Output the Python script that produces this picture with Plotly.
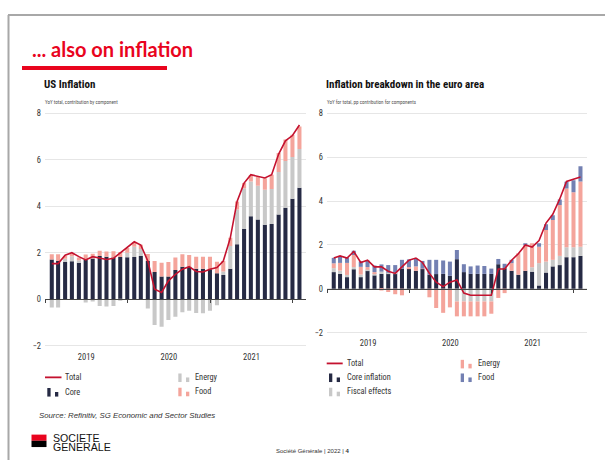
import plotly.graph_objects as go
import pandas as pd

# ---------------- data ----------------
months = pd.date_range("2019-01-01", periods=37, freq=pd.offsets.MonthEnd())

us_names = ["Total", "Core", "Energy", "Food"]
us_core = [1.71, 1.64, 1.60, 1.63, 1.57, 1.70, 1.75, 1.86, 1.83, 1.79, 1.81, 1.80, 1.81, 1.86, 1.64,
           1.17, 0.97, 0.97, 1.26, 1.40, 1.40, 1.31, 1.31, 1.29, 1.11, 1.04, 1.31, 2.36, 3.03, 3.57,
           3.43, 3.20, 3.24, 3.65, 3.94, 4.33, 4.80]
us_energy = [-0.36, -0.36, 0.14, 0.22, 0.10, -0.15, -0.10, -0.30, -0.32, -0.30, -0.05, 0.20, 0.45, 0.30, -0.40,
             -1.11, -1.19, -0.90, -0.76, -0.57, -0.50, -0.60, -0.61, -0.50, -0.26, 0.15, 0.98, 1.50, 1.75, 1.50,
             1.46, 1.51, 1.50, 1.83, 2.01, 1.79, 1.67]
us_food = [0.22, 0.29, 0.12, 0.12, 0.12, 0.22, 0.20, 0.22, 0.22, 0.27, 0.22, 0.20, 0.20, 0.18, 0.30,
           0.47, 0.60, 0.63, 0.53, 0.53, 0.50, 0.52, 0.52, 0.54, 0.50, 0.45, 0.35, 0.35, 0.22, 0.28,
           0.40, 0.50, 0.62, 0.82, 0.93, 0.96, 0.97]
us_total = [1.53, 1.53, 1.89, 2.00, 1.83, 1.69, 1.83, 1.76, 1.71, 1.76, 2.00, 2.21, 2.47, 2.33, 1.64,
            0.43, 0.29, 0.79, 1.07, 1.29, 1.40, 1.19, 1.17, 1.29, 1.36, 1.64, 2.64, 4.21, 5.00, 5.36,
            5.30, 5.22, 5.36, 6.25, 6.82, 7.05, 7.50]

ea_names = ["Total", "Core inflation", "Fiscal effects", "Energy", "Food"]
ea_core = [0.76, 0.68, 0.53, 0.89, 0.53, 0.82, 0.61, 0.68, 0.71, 0.71, 0.92, 0.94, 0.82, 0.90, 0.64,
           0.67, 0.68, 0.59, 1.35, 0.76, 0.68, 0.68, 0.68, 0.68, 1.12, 0.94, 0.82, 0.64, 0.82, 0.78,
           0.15, 0.74, 1.02, 1.08, 1.44, 1.44, 1.50]
ea_fiscal = [0.18, 0.15, 0.10, 0.10, 0.12, 0.05, 0.10, 0.10, 0.02, 0.02, 0.00, 0.00, 0.00, 0.00, 0.00,
             0.00, 0.00, 0.00, -0.58, -0.58, -0.58, -0.58, -0.58, -0.58, 0.00, 0.00, 0.00, 0.00, 0.00, 0.20,
             1.02, 0.50, 0.30, 0.42, 0.45, 0.45, 0.42]
ea_energy = [0.22, 0.35, 0.55, 0.55, 0.35, 0.12, 0.05, -0.08, -0.15, -0.25, -0.30, 0.05, 0.20, 0.02, -0.39,
             -0.88, -1.10, -0.85, -0.68, -0.68, -0.68, -0.68, -0.68, -0.56, -0.42, -0.20, 0.35, 0.98, 1.18, 1.10,
             0.75, 1.44, 1.82, 2.32, 2.69, 2.51, 2.98]
ea_food = [0.25, 0.30, 0.25, 0.20, 0.25, 0.30, 0.30, 0.33, 0.35, 0.35, 0.40, 0.35, 0.35, 0.35, 0.68,
           0.65, 0.61, 0.65, 0.42, 0.36, 0.34, 0.38, 0.36, 0.24, 0.24, 0.20, 0.15, 0.00, 0.05, 0.00,
           0.16, 0.27, 0.22, 0.26, 0.30, 0.55, 0.69]
ea_total = [1.4, 1.5, 1.4, 1.7, 1.2, 1.3, 1.0, 1.0, 0.8, 0.7, 1.0, 1.3, 1.4, 1.2, 0.7,
            0.3, 0.1, 0.3, 0.4, -0.2, -0.3, -0.3, -0.3, -0.3, 0.9, 0.9, 1.3, 1.6, 2.0, 1.9,
            2.2, 3.0, 3.4, 4.1, 4.9, 5.0, 5.1]

y_tickvals = [-2, 0, 2, 4, 6, 8]

# ---------------- style ----------------
W, H = 605, 461
NAVY = "#262a44"
GREY = "#c8c8c8"
SALMON = "#f4a49b"
BLUE = "#7380b2"
LINE_RED = "#c4122f"
SG_RED = "#e9041e"
COND = "Roboto Condensed, Roboto, sans-serif"
SANS = "Liberation Sans, Arial, sans-serif"


def px(x):
    return x / W


def py(y):
    return 1 - y / H


YR = [-2.2, 8.2]
XR = ["2019-01-01", "2022-03-01"]
left_dx = [px(45), px(306)]
left_dy = [py(350.7), py(108.3)]
right_dx = [px(327), px(587)]
right_dy = [py(337.4), py(108.6)]


def zero_pos(dom):
    return dom[0] + (0 - YR[0]) / (YR[1] - YR[0]) * (dom[1] - dom[0])


fig = go.Figure()

# US bars
for vals, name, col in [(us_core, us_names[1], NAVY), (us_energy, us_names[2], GREY), (us_food, us_names[3], SALMON)]:
    fig.add_trace(go.Bar(x=months, y=vals, name=name, marker=dict(color=col, line=dict(width=0)),
                         xaxis="x", yaxis="y"))
fig.add_trace(go.Scatter(x=months, y=us_total, name=us_names[0], mode="lines",
                         line=dict(color=LINE_RED, width=1.6), xaxis="x3", yaxis="y"))

# Euro area bars
for vals, name, col in [(ea_core, ea_names[1], NAVY), (ea_fiscal, ea_names[2], GREY),
                        (ea_energy, ea_names[3], SALMON), (ea_food, ea_names[4], BLUE)]:
    fig.add_trace(go.Bar(x=months, y=vals, name=name, marker=dict(color=col, line=dict(width=0)),
                         xaxis="x2", yaxis="y2"))
fig.add_trace(go.Scatter(x=months, y=ea_total, name=ea_names[0], mode="lines",
                         line=dict(color=LINE_RED, width=1.6), xaxis="x4", yaxis="y2"))

tickfont = dict(family=COND, size=8.5, color="#333333")

base_x = dict(type="date", range=XR, dtick="M12", tick0="2019-01-01", ticklabelmode="period",
              tickformat="%Y", ticks="", showgrid=False, showline=False, zeroline=False,
              tickfont=tickfont, fixedrange=True)
zero_x = dict(type="date", range=XR, dtick="M12", tick0="2019-01-01", ticks="outside", ticklen=3,
              tickcolor="#444444", tickwidth=1, showline=True, linecolor="#444444", linewidth=1,
              showticklabels=False, showgrid=False, zeroline=False, anchor="free")
base_y = dict(range=YR, tickvals=y_tickvals, showgrid=True, gridcolor="#e6e6e6", gridwidth=1,
              zeroline=False, showline=False, ticks="", tickfont=tickfont, ticklabelstandoff=3)

fig.update_layout(
    width=W, height=H, margin=dict(l=0, r=0, t=0, b=0),
    paper_bgcolor="white", plot_bgcolor="white",
    showlegend=False, barmode="relative", bargap=0.36,
    xaxis=dict(base_x, domain=left_dx, anchor="y"),
    yaxis=dict(base_y, domain=left_dy, anchor="x"),
    xaxis2=dict(base_x, domain=right_dx, anchor="y2"),
    yaxis2=dict(base_y, domain=right_dy, anchor="x2"),
    xaxis3=dict(zero_x, overlaying="x", position=zero_pos(left_dy)),
    xaxis4=dict(zero_x, overlaying="x2", position=zero_pos(right_dy)),
)

shapes = []
ann = []

# frame lines
shapes.append(dict(type="line", xref="paper", yref="paper", x0=px(8), x1=1, y0=py(14), y1=py(14),
                   line=dict(color="#a8a8a8", width=2)))
shapes.append(dict(type="line", xref="paper", yref="paper", x0=px(8.5), x1=px(8.5), y0=py(14), y1=0,
                   line=dict(color="#a8a8a8", width=2)))
# red underline
shapes.append(dict(type="rect", xref="paper", yref="paper", x0=px(22), x1=px(167), y0=py(69.3), y1=py(65.3),
                   fillcolor=SG_RED, line=dict(width=0)))


def text(x, y, s, size, color="#222222", family=COND, xanchor="left"):
    ann.append(dict(xref="paper", yref="paper", x=px(x), y=py(y), text=s, showarrow=False,
                    xanchor=xanchor, yanchor="middle", font=dict(family=family, size=size, color=color)))


text(30, 48, "<b>... also on inflation</b>", 20, SG_RED, "Lato, Open Sans, sans-serif")
text(42, 83.5, "<b>US Inflation</b>", 11, "#111111")
text(43, 101, "YoY total, contribution by component", 5, "#555555")
text(324, 84, "<b>Inflation breakdown in the euro area</b>", 11, "#111111")
text(325, 101.5, "YoY for total, pp contribution for components", 5, "#555555")


def leg_line(x0, x1, y, label, tx):
    shapes.append(dict(type="line", xref="paper", yref="paper", x0=px(x0), x1=px(x1), y0=py(y), y1=py(y),
                       line=dict(color=LINE_RED, width=1.8)))
    text(tx, y, label, 8.3, "#333333")


def leg_bar(x0, ybot, color, label, tx):
    shapes.append(dict(type="rect", xref="paper", yref="paper", x0=px(x0), x1=px(x0 + 3.3),
                       y0=py(ybot), y1=py(ybot - 8.6), fillcolor=color, line=dict(width=0)))
    shapes.append(dict(type="rect", xref="paper", yref="paper", x0=px(x0 + 7.7), x1=px(x0 + 11),
                       y0=py(ybot), y1=py(ybot - 4.6), fillcolor=color, line=dict(width=0)))
    text(tx, ybot - 5, label, 8.3, "#333333")


# left legend
leg_line(45, 61.5, 378, us_names[0], 63)
leg_bar(47.3, 397.3, NAVY, us_names[1], 62.7)
leg_bar(178.3, 382.7, GREY, us_names[2], 193.3)
leg_bar(178.3, 397.0, SALMON, us_names[3], 193.3)

# right legend
leg_line(326.7, 342.7, 364, ea_names[0], 345)
leg_bar(329, 382.7, NAVY, ea_names[1], 345)
leg_bar(329, 397.0, GREY, ea_names[2], 345)
leg_bar(460.7, 369.0, SALMON, ea_names[3], 476)
leg_bar(460.7, 382.7, BLUE, ea_names[4], 476)

# source
text(36.5, 416.5, "<i>Source: Refinitiv, SG Economic and Sector Studies</i>", 7.8, "#333333", SANS)

# logo
shapes.append(dict(type="rect", xref="paper", yref="paper", x0=px(31.5), x1=px(46.5), y0=py(441.7), y1=py(435.5),
                   fillcolor=SG_RED, line=dict(width=0)))
shapes.append(dict(type="rect", xref="paper", yref="paper", x0=px(31.5), x1=px(46.5), y0=py(448), y1=py(441.7),
                   fillcolor="#000000", line=dict(width=0)))
text(51, 438.8, "SOCIETE", 10.6, "#111111", SANS)
text(51, 447.8, "GENERALE", 10.6, "#111111", SANS)

# footer
text(313, 452, "Société Générale | 2022 | <b>4</b>", 6, "#333333", SANS, xanchor="center")

fig.update_layout(shapes=shapes, annotations=ann)
fig.write_html("out.html", config={"displayModeBar": False},
               post_script="document.body.style.margin='0';")
